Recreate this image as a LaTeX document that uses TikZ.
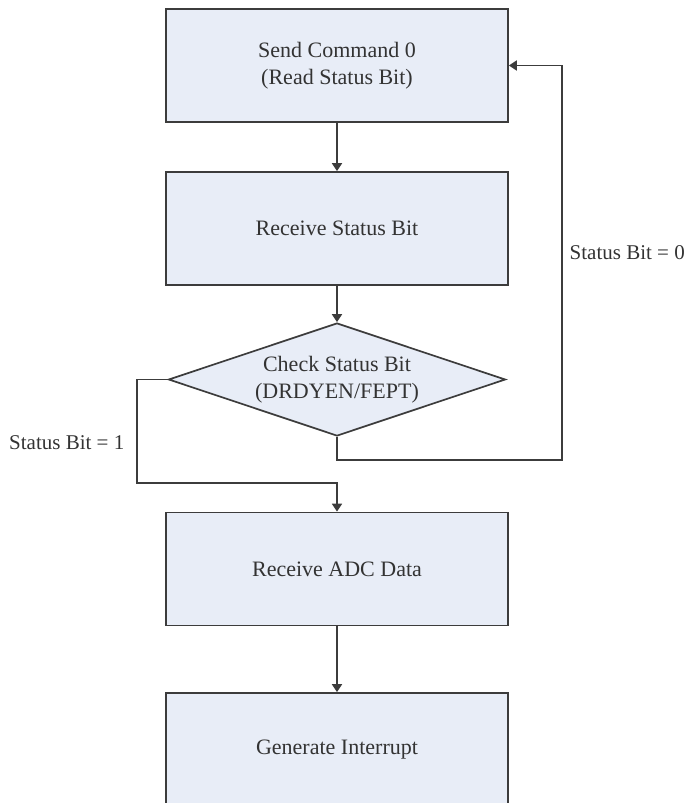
\documentclass[tikz,border=0pt]{standalone}
\usepackage{fontspec}
\setmainfont{Liberation Serif}
\usetikzlibrary{shapes.geometric,arrows.meta}
\definecolor{boxfill}{HTML}{E8EDF7}
\definecolor{boxline}{HTML}{3C3C3C}
\definecolor{txt}{HTML}{333333}
\begin{document}
\begin{tikzpicture}[x=1pt,y=-1pt,
  every node/.style={font=\fontsize{22}{27}\selectfont, text=txt},
  blk/.style={draw=boxline, fill=boxfill, line width=1.7pt, minimum width=342pt, minimum height=113pt, align=center, inner sep=0pt},
  chk/.style={draw=boxline, fill=boxfill, line width=1.7pt, shape=diamond, aspect=3, minimum width=337pt, minimum height=113pt, align=center, inner sep=0pt},
  arr/.style={draw=boxline, line width=1.7pt, -{Triangle[length=8pt,width=10pt]}},
  lbl/.style={inner sep=0pt, font=\fontsize{21}{25}\selectfont}]
\useasboundingbox (0,0) rectangle (687,803);
\node[blk] (send) at (337,65.5) {Send Command 0\\(Read Status Bit)};
\node[blk] (recv) at (337,228.5) {Receive Status Bit};
\node[chk] (check) at (337,379.5) {Check Status Bit\\(DRDYEN/FEPT)};
\node[blk] (adc) at (337,569) {Receive ADC Data};
\node[blk] (irq) at (337,749.5) {Generate Interrupt};
\coordinate (loopR) at (562,460);
\coordinate (loopL) at (137,483);
\draw[arr] (send) -- (recv);
\draw[arr] (recv) -- (check);
\draw[arr] (check.south) |- (loopR) |- (send.east);
\draw[arr] (check.west) -| (loopL) -| (adc.north);
\draw[arr] (adc) -- (irq);
\node[lbl, anchor=east] (bit0) at (685,253) {Status Bit = 0};
\node[lbl, anchor=west] (bit1) at (9,443) {Status Bit = 1};
\end{tikzpicture}
\end{document}
